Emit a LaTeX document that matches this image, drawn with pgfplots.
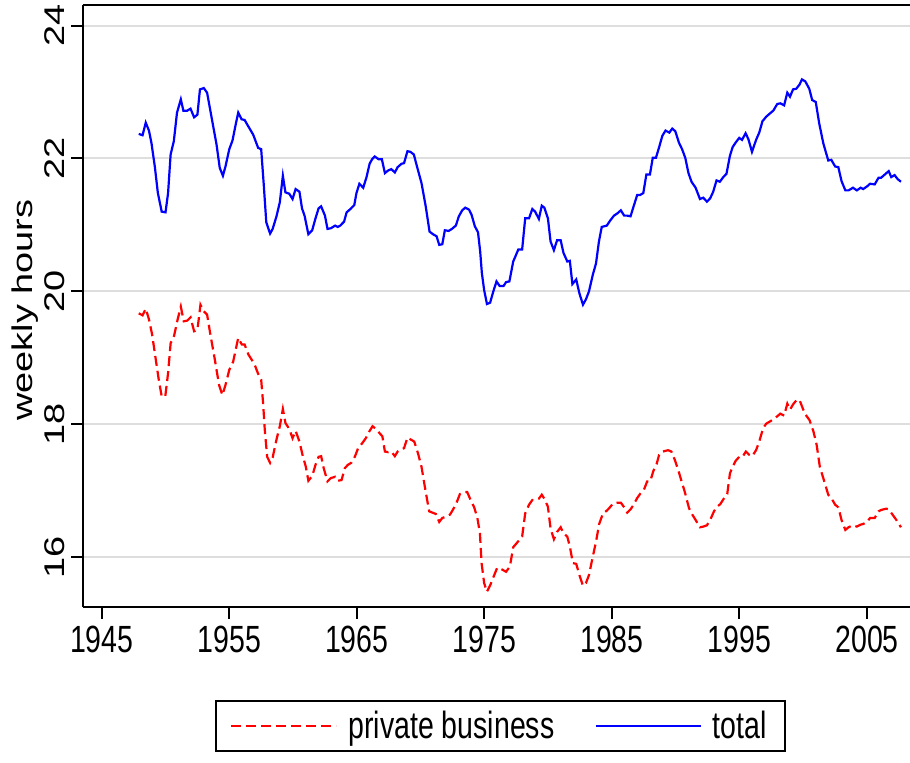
\documentclass[border=0pt]{standalone}
\usepackage{fontspec}
\setmainfont{Liberation Sans}
\usepackage{graphicx}
\usepackage{pgfplots}
\pgfplotsset{compat=1.18}

% the source picture is stretched vertically by about 4/3
\newcommand\sx[1]{\scalebox{1}[1.33]{#1}}
\newcommand\sy[1]{\scalebox{1.33}[1]{#1}}

\pgfplotstableread{
year hours
1947.9 22.37
1948.2 22.35
1948.45 22.54
1948.7 22.42
1948.9 22.23
1949.16 21.88
1949.4 21.48
1949.7 21.20
1950.0 21.19
1950.2 21.48
1950.4 22.06
1950.65 22.26
1950.9 22.69
1951.2 22.89
1951.4 22.72
1951.7 22.72
1951.96 22.75
1952.24 22.62
1952.5 22.66
1952.7 23.04
1953.0 23.06
1953.26 22.99
1953.6 22.63
1954.0 22.21
1954.25 21.86
1954.5 21.74
1954.7 21.88
1955.0 22.14
1955.25 22.27
1955.5 22.51
1955.7 22.69
1955.96 22.59
1956.2 22.58
1956.5 22.48
1956.87 22.36
1957.26 22.16
1957.5 22.14
1957.7 21.61
1957.9 21.04
1958.2 20.87
1958.4 20.94
1958.7 21.13
1958.96 21.34
1959.2 21.74
1959.4 21.49
1959.7 21.47
1959.96 21.39
1960.2 21.54
1960.5 21.50
1960.7 21.25
1960.9 21.14
1961.2 20.86
1961.5 20.92
1961.76 21.10
1962.0 21.25
1962.2 21.28
1962.5 21.14
1962.7 20.94
1962.96 20.95
1963.3 20.99
1963.5 20.97
1963.7 20.99
1964.0 21.05
1964.2 21.19
1964.5 21.24
1964.8 21.30
1964.97 21.48
1965.2 21.62
1965.5 21.56
1965.76 21.72
1966.0 21.92
1966.2 21.99
1966.4 22.03
1966.7 21.99
1966.96 21.99
1967.2 21.78
1967.46 21.82
1967.7 21.84
1967.98 21.79
1968.2 21.87
1968.5 21.92
1968.7 21.93
1968.97 22.11
1969.2 22.10
1969.47 22.06
1969.7 21.89
1970.07 21.63
1970.4 21.28
1970.7 20.90
1970.97 20.86
1971.25 20.83
1971.46 20.70
1971.7 20.71
1971.9 20.92
1972.2 20.91
1972.45 20.94
1972.76 20.99
1973.0 21.13
1973.26 21.22
1973.5 21.26
1973.8 21.23
1974.0 21.15
1974.25 20.98
1974.5 20.89
1974.67 20.60
1974.8 20.28
1974.98 20.02
1975.2 19.81
1975.45 19.83
1975.7 20.00
1975.95 20.15
1976.2 20.08
1976.5 20.08
1976.7 20.14
1976.96 20.15
1977.26 20.45
1977.66 20.63
1977.96 20.63
1978.2 21.10
1978.5 21.10
1978.76 21.24
1978.98 21.20
1979.27 21.09
1979.5 21.29
1979.7 21.26
1979.98 21.10
1980.19 20.75
1980.45 20.62
1980.7 20.77
1980.98 20.77
1981.2 20.58
1981.5 20.45
1981.7 20.46
1981.9 20.11
1982.2 20.18
1982.45 19.97
1982.73 19.80
1982.96 19.88
1983.2 20.00
1983.5 20.25
1983.75 20.42
1983.98 20.75
1984.2 20.97
1984.6 20.99
1984.84 21.06
1985.16 21.14
1985.4 21.17
1985.7 21.22
1985.96 21.14
1986.2 21.14
1986.46 21.13
1986.7 21.28
1986.98 21.45
1987.2 21.45
1987.46 21.48
1987.7 21.76
1987.98 21.76
1988.2 22.01
1988.45 22.01
1988.7 22.17
1988.95 22.34
1989.2 22.42
1989.5 22.39
1989.73 22.45
1989.97 22.41
1990.25 22.24
1990.5 22.14
1990.75 22.01
1991.0 21.78
1991.24 21.65
1991.56 21.56
1991.9 21.39
1992.16 21.41
1992.45 21.35
1992.7 21.40
1992.94 21.50
1993.2 21.67
1993.46 21.65
1993.73 21.72
1993.98 21.77
1994.25 22.04
1994.46 22.17
1994.7 22.24
1994.98 22.31
1995.2 22.28
1995.48 22.38
1995.7 22.29
1995.98 22.10
1996.3 22.28
1996.55 22.39
1996.8 22.56
1997.1 22.63
1997.4 22.68
1997.65 22.72
1997.96 22.82
1998.2 22.83
1998.5 22.80
1998.75 22.99
1998.96 22.93
1999.2 23.04
1999.45 23.05
1999.7 23.11
1999.9 23.19
2000.16 23.16
2000.47 23.05
2000.7 22.88
2000.98 22.85
2001.25 22.53
2001.57 22.23
2001.96 21.97
2002.2 21.98
2002.5 21.88
2002.75 21.87
2003.0 21.66
2003.3 21.52
2003.55 21.52
2003.9 21.56
2004.2 21.52
2004.5 21.56
2004.7 21.54
2005.0 21.58
2005.24 21.62
2005.6 21.61
2005.9 21.71
2006.1 21.71
2006.4 21.76
2006.7 21.81
2006.9 21.72
2007.16 21.75
2007.4 21.69
2007.66 21.65
}\totaltable

\pgfplotstableread{
year hours
1947.9 19.67
1948.2 19.64
1948.45 19.74
1948.7 19.58
1948.95 19.35
1949.2 19.02
1949.47 18.67
1949.7 18.42
1949.98 18.42
1950.2 18.77
1950.4 19.22
1950.67 19.33
1950.94 19.57
1951.2 19.77
1951.43 19.55
1951.7 19.56
1951.96 19.61
1952.24 19.40
1952.5 19.42
1952.74 19.80
1953.0 19.70
1953.26 19.65
1953.5 19.37
1953.86 18.98
1954.2 18.59
1954.46 18.44
1954.7 18.59
1955.0 18.82
1955.3 18.94
1955.5 19.12
1955.7 19.30
1955.98 19.20
1956.2 19.20
1956.5 19.05
1956.76 18.97
1956.98 18.90
1957.24 18.77
1957.5 18.67
1957.65 18.32
1957.78 17.92
1957.97 17.51
1958.2 17.42
1958.4 17.50
1958.7 17.77
1958.96 17.97
1959.2 18.23
1959.4 18.02
1959.7 17.93
1959.96 17.79
1960.2 17.90
1960.5 17.74
1960.74 17.54
1961.0 17.36
1961.2 17.15
1961.5 17.22
1961.76 17.39
1962.0 17.51
1962.2 17.52
1962.4 17.34
1962.7 17.14
1962.96 17.19
1963.3 17.21
1963.5 17.15
1963.8 17.16
1964.06 17.34
1964.3 17.39
1964.56 17.42
1964.84 17.51
1965.1 17.64
1965.44 17.72
1965.7 17.79
1965.97 17.89
1966.23 17.97
1966.5 17.93
1966.76 17.87
1967.0 17.82
1967.2 17.59
1967.46 17.58
1967.7 17.59
1967.98 17.52
1968.2 17.59
1968.45 17.62
1968.7 17.64
1968.97 17.80
1969.23 17.77
1969.5 17.74
1969.8 17.56
1970.07 17.36
1970.33 17.06
1970.67 16.69
1970.93 16.67
1971.2 16.65
1971.46 16.53
1971.7 16.59
1972.0 16.61
1972.3 16.64
1972.55 16.72
1972.76 16.79
1973.08 16.95
1973.34 16.98
1973.65 16.98
1973.9 16.87
1974.2 16.75
1974.45 16.59
1974.65 16.36
1974.78 15.91
1974.98 15.61
1975.2 15.48
1975.46 15.58
1975.75 15.72
1976.0 15.84
1976.33 15.82
1976.7 15.78
1977.0 15.86
1977.26 16.15
1977.66 16.24
1977.96 16.31
1978.2 16.66
1978.5 16.79
1978.76 16.86
1978.98 16.86
1979.27 16.88
1979.5 16.94
1979.7 16.88
1979.98 16.76
1980.19 16.43
1980.45 16.27
1980.7 16.38
1980.98 16.45
1981.2 16.36
1981.5 16.31
1981.7 16.16
1981.94 15.91
1982.2 15.90
1982.45 15.73
1982.73 15.57
1982.96 15.61
1983.2 15.73
1983.5 16.01
1983.75 16.23
1984.0 16.50
1984.3 16.66
1984.6 16.70
1984.84 16.75
1985.1 16.81
1985.37 16.82
1985.7 16.82
1985.96 16.75
1986.2 16.67
1986.46 16.72
1986.7 16.79
1986.98 16.89
1987.24 16.96
1987.5 17.01
1987.76 17.14
1988.0 17.14
1988.25 17.30
1988.5 17.40
1988.7 17.54
1989.0 17.59
1989.4 17.61
1989.66 17.59
1989.94 17.46
1990.2 17.31
1990.46 17.14
1990.7 16.99
1991.04 16.74
1991.24 16.66
1991.56 16.56
1991.9 16.45
1992.16 16.46
1992.45 16.48
1992.7 16.56
1993.0 16.69
1993.2 16.75
1993.5 16.80
1993.8 16.89
1994.04 16.95
1994.25 17.26
1994.46 17.36
1994.7 17.45
1994.98 17.51
1995.24 17.51
1995.5 17.59
1995.76 17.54
1996.0 17.52
1996.3 17.61
1996.55 17.74
1996.85 17.94
1997.1 18.01
1997.37 18.04
1997.7 18.08
1997.96 18.12
1998.2 18.16
1998.5 18.13
1998.75 18.31
1998.96 18.22
1999.2 18.30
1999.46 18.36
1999.7 18.37
2000.0 18.22
2000.2 18.14
2000.5 18.06
2000.8 17.89
2001.05 17.69
2001.3 17.36
2001.57 17.19
2001.96 16.94
2002.2 16.89
2002.5 16.79
2002.75 16.75
2003.0 16.56
2003.3 16.41
2003.55 16.45
2003.9 16.48
2004.2 16.46
2004.5 16.49
2004.7 16.50
2005.0 16.53
2005.24 16.59
2005.6 16.59
2005.9 16.69
2006.1 16.71
2006.5 16.73
2006.7 16.72
2007.0 16.64
2007.3 16.56
2007.66 16.45
}\privatetable

\begin{document}
\begin{tikzpicture}
\path[use as bounding box] (-41.5pt,-77.5pt) rectangle (413.5pt,303.5pt);
\begin{axis}[
    scale only axis,
    width=413.5pt,
    height=301pt,
    at={(0pt,0pt)},
    anchor=south west,
    xmin=1943.53, xmax=2008.37,
    ymin=15.25, ymax=24.31,
    axis x line*=box,
    axis y line*=left,
    xtick pos=bottom,
    ytick pos=left,
    tick align=outside,
    major tick length=5.75pt,
    every tick/.style={black, line width=1pt},
    axis line style={line width=1pt, black},
    xtick={1945,1955,1965,1975,1985,1995,2005},
    xticklabels={\sx{1945},\sx{1955},\sx{1965},\sx{1975},\sx{1985},\sx{1995},\sx{2005}},
    ytick={16,18,20,22,24},
    yticklabels={\sy{16},\sy{18},\sy{20},\sy{22},\sy{24}},
    yticklabel style={rotate=90, anchor=south},
    ymajorgrids,
    grid style={line width=1pt, color=black!13},
    font=\fontsize{14.25}{17}\selectfont,
    ylabel={\sy{weekly hours}},
    ylabel style={at={(axis description cs:-0.0701,0.4934)}, anchor=center},
    legend columns=2,
    legend style={
        at={(axis description cs:0.5048,-0.1977)}, anchor=center,
        draw=black, line width=1pt, fill=white,
        inner xsep=7pt, inner ysep=3pt,
        font=\fontsize{14.25}{17}\selectfont,
        /tikz/every odd column/.append style={column sep=3.5pt},
        /tikz/every even column/.append style={column sep=18pt},
    },
    legend image code/.code={\draw[#1] (0pt,0pt) -- (52.5pt,0pt);},
]
\addplot[red, line width=1.1pt, dash pattern=on 5pt off 2.5pt] table[x=year, y=hours] {\privatetable};
\addlegendentry{\sx{private business}}
\addplot[blue, line width=1.1pt] table[x=year, y=hours] {\totaltable};
\addlegendentry{\sx{total}}
\end{axis}
\end{tikzpicture}
\end{document}
